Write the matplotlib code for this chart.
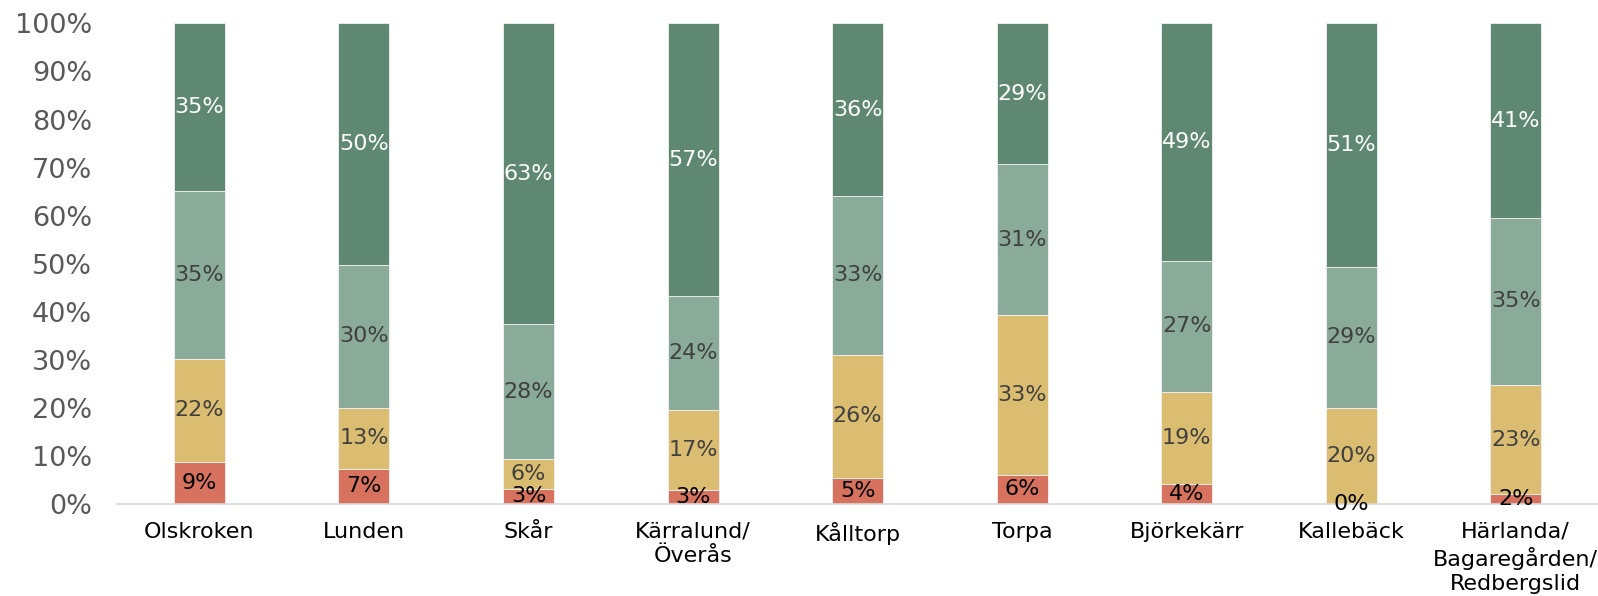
import numpy as np
import matplotlib
matplotlib.use("Agg")
import matplotlib.pyplot as plt

# data (percent of respondents per area)
areas = ["Olskroken", "Lunden", "Skår", "Kärralund/\nÖverås", "Kålltorp",
         "Torpa", "Björkekärr", "Kallebäck", "Härlanda/\nBagaregården/\nRedbergslid"]
red_vals = [8.6, 7.2, 3.0, 2.8, 5.3, 5.9, 4.0, 0.0, 1.9]
yellow_vals = [21.6, 12.8, 6.3, 16.6, 25.7, 33.4, 19.3, 20.0, 22.9]
lightgreen_vals = [35.0, 29.7, 28.1, 23.8, 33.1, 31.4, 27.3, 29.3, 34.6]
darkgreen_vals = [34.8, 50.3, 62.6, 56.8, 35.9, 29.3, 49.4, 50.7, 40.6]
yticks = [0, 10, 20, 30, 40, 50, 60, 70, 80, 90, 100]

series = [
    (red_vals, "#d6725e", "black"),
    (yellow_vals, "#dbbd71", "#404040"),
    (lightgreen_vals, "#8aab99", "#404040"),
    (darkgreen_vals, "#5e8872", "white"),
]

fig = plt.figure(figsize=(15.98, 5.96), dpi=100)
ax = fig.add_axes([0.0733, 0.155, 0.9267, 0.8056])

x = np.arange(len(areas))
bottom = np.zeros(len(areas))
for vals, color, txtcolor in series:
    vals = np.array(vals)
    ax.bar(x, vals, width=0.31, bottom=bottom, color=color,
           edgecolor="#f2f2f2", linewidth=0.6)
    for xi, b, v in zip(x, bottom, vals):
        ax.text(xi, b + v / 2, f"{v:.0f}%", ha="center", va="center",
                fontsize=16, color=txtcolor)
    bottom += vals

ax.set_xlim(-0.5, len(areas) - 0.5)
ax.set_ylim(0, 100)
ax.set_yticks(yticks)
ax.set_yticklabels([f"{t}%" for t in yticks], fontsize=19.5, color="#595959")
ax.set_xticks(x)
ax.set_xticklabels(areas, fontsize=16, color="black", linespacing=1.28)
ax.tick_params(axis="y", length=0, pad=18)
ax.tick_params(axis="x", length=0, pad=13)

for s in ["top", "right", "left"]:
    ax.spines[s].set_visible(False)
ax.spines["bottom"].set_color("#d9d9d9")
ax.spines["bottom"].set_linewidth(1.2)

fig.savefig("out.png", dpi=100)
